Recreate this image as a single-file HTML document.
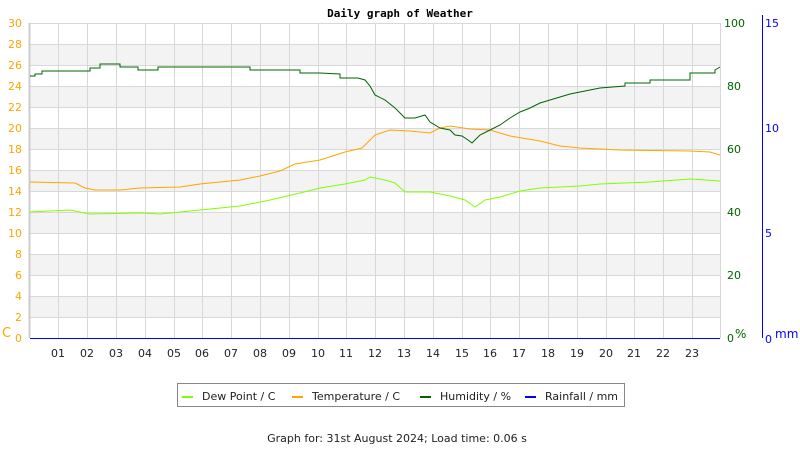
<!DOCTYPE html>
<html><head><style>body{margin:0;background:#fff}svg{display:block}</style></head><body>
<svg width="800" height="450" xmlns="http://www.w3.org/2000/svg" font-family="DejaVu Sans, Liberation Sans, sans-serif" font-size="11">
<g fill="#f3f3f3">
<rect x="30" y="44" width="690" height="21"/><rect x="30" y="86" width="690" height="21"/><rect x="30" y="128" width="690" height="21"/><rect x="30" y="170" width="690" height="21"/><rect x="30" y="212" width="690" height="21"/><rect x="30" y="254" width="690" height="21"/><rect x="30" y="296" width="690" height="21"/>
</g>
<g stroke="#d8d8d8" stroke-width="1">
<path d="M30 23.5H720M30 44.5H720M30 65.5H720M30 86.5H720M30 107.5H720M30 128.5H720M30 149.5H720M30 170.5H720M30 191.5H720M30 212.5H720M30 233.5H720M30 254.5H720M30 275.5H720M30 296.5H720M30 317.5H720"/>
<path d="M58.5 23V338M87.5 23V338M116.5 23V338M145.5 23V338M174.5 23V338M202.5 23V338M231.5 23V338M260.5 23V338M289.5 23V338M318.5 23V338M346.5 23V338M375.5 23V338M404.5 23V338M433.5 23V338M462.5 23V338M490.5 23V338M519.5 23V338M548.5 23V338M577.5 23V338M606.5 23V338M634.5 23V338M663.5 23V338M692.5 23V338M720.5 23V338"/>
</g>
<line x1="29.5" y1="23" x2="29.5" y2="338" stroke="#ccc" stroke-width="2"/>
<line x1="30" y1="338.5" x2="720" y2="338.5" stroke="#00f"/>
<line x1="762.5" y1="15" x2="762.5" y2="338" stroke="#00f"/>
<polyline fill="none" stroke="#7fff00" points="30,212 70,210 80,212 90,214 140,213 160,214 200,210 240,206 270,200 300,193 320,188 345,184 365,180 370,177 385,180 395,183 405,192 430,192 450,196 465,200 475,207 485,200 500,197 520,191 540,188 580,186 600,184 650,182 690,179 720,181"/>
<polyline fill="none" stroke="#ffa500" points="30,182 75,183 85,188 95,190 120,190 140,188 180,187 200,184 240,180 260,176 280,171 295,164 320,160 345,152 362,148 375,135 390,130 410,131 430,133 440,128 450,126 470,129 490,130 510,136 540,141 560,146 580,148 620,150 690,151 710,152 720,155"/>
<polyline fill="none" stroke="#006400" points="30,76 35,76 35,74 42,74 42,71 60,71 90,71 90,68 100,68 100,64 120,64 120,67 138,67 138,70 158,70 158,67 250,67 250,70 300,70 300,73 320,73 340,74 340,78 358,78 365,80 370,86 375,95 385,100 395,108 405,118 415,118 425,115 430,122 440,128 450,130 455,135 462,136 468,140 472,143 480,135 490,130 500,125 510,118 520,112 530,108 540,103 550,100 560,97 570,94 580,92 590,90 600,88 625,86 625,83 650,83 650,80 690,80 690,73 715,73 715,70 720,67"/>
<g fill="#ffa500" text-anchor="end">
<text x="22" y="27">30</text><text x="22" y="48">28</text><text x="22" y="69">26</text><text x="22" y="90">24</text><text x="22" y="111">22</text><text x="22" y="132">20</text><text x="22" y="153">18</text><text x="22" y="174">16</text><text x="22" y="195">14</text><text x="22" y="216">12</text><text x="22" y="237">10</text><text x="22" y="258">8</text><text x="22" y="279">6</text><text x="22" y="300">4</text><text x="22" y="321">2</text><text x="22" y="342">0</text>
</g>
<text x="2" y="337" fill="#ffa500" font-size="13">C</text>
<g fill="#006400">
<text x="724" y="27">100</text><text x="727" y="90">80</text><text x="727" y="153">60</text><text x="727" y="216">40</text><text x="727" y="279">20</text><text x="727" y="342">0</text>
<text x="735" y="338" font-size="12">%</text>
</g>
<g fill="#00f">
<text x="765" y="27">15</text><text x="765" y="132">10</text><text x="765" y="237">5</text><text x="765" y="343">0</text>
<text x="775" y="338" font-size="12">mm</text>
</g>
<g fill="#222" text-anchor="middle">
<text x="58" y="357">01</text><text x="87" y="357">02</text><text x="116" y="357">03</text><text x="145" y="357">04</text><text x="174" y="357">05</text><text x="202" y="357">06</text><text x="231" y="357">07</text><text x="260" y="357">08</text><text x="289" y="357">09</text><text x="318" y="357">10</text><text x="346" y="357">11</text><text x="375" y="357">12</text><text x="404" y="357">13</text><text x="433" y="357">14</text><text x="462" y="357">15</text><text x="490" y="357">16</text><text x="519" y="357">17</text><text x="548" y="357">18</text><text x="577" y="357">19</text><text x="606" y="357">20</text><text x="634" y="357">21</text><text x="663" y="357">22</text><text x="692" y="357">23</text>
</g>
<text x="400" y="17" text-anchor="middle" font-family="DejaVu Sans Mono, Liberation Mono, monospace" font-weight="bold" font-size="11">Daily graph of Weather</text>
<rect x="177.5" y="383.5" width="447" height="23" fill="#fff" stroke="#888"/>
<g stroke-width="2"><line x1="182" y1="397" x2="193" y2="397" stroke="#7fff00"/><line x1="292" y1="397" x2="303" y2="397" stroke="#ffa500"/><line x1="420" y1="397" x2="431" y2="397" stroke="#006400"/><line x1="525" y1="397" x2="536" y2="397" stroke="#00f"/></g>
<g fill="#222"><text x="202" y="400">Dew Point / C</text><text x="312" y="400">Temperature / C</text><text x="440" y="400">Humidity / %</text><text x="545" y="400">Rainfall / mm</text></g>
<text x="397" y="442" text-anchor="middle" fill="#222">Graph for: 31st August 2024; Load time: 0.06 s</text>
</svg>
</body></html>
